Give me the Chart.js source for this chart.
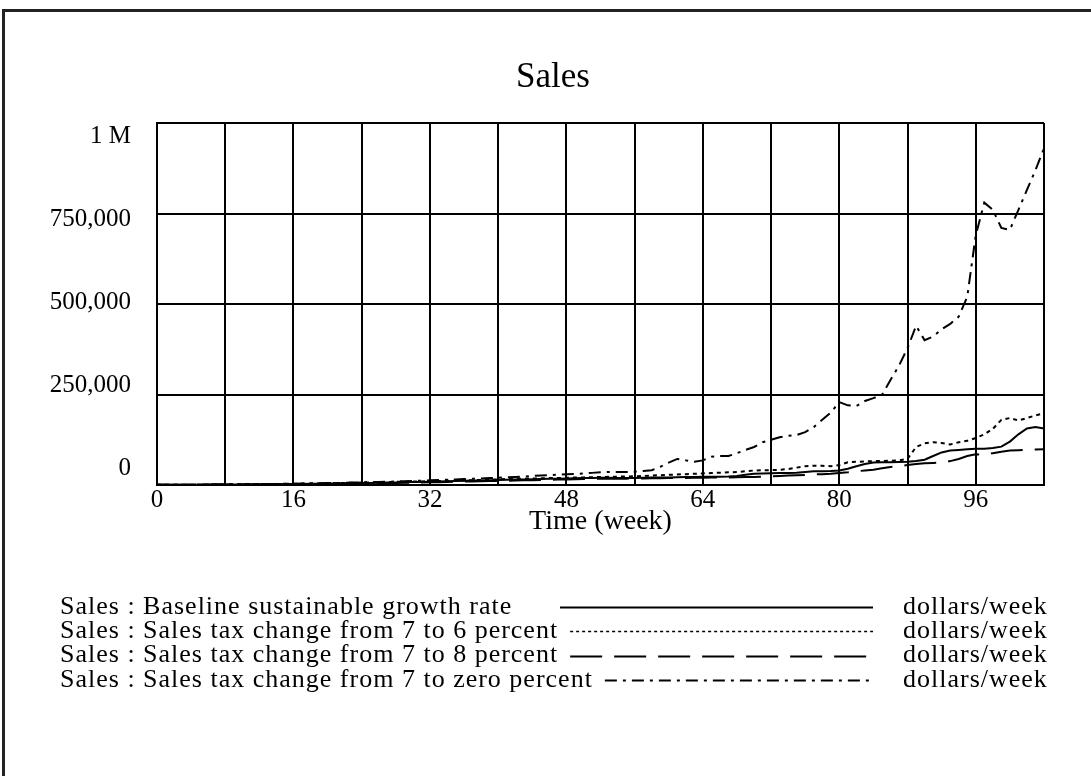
<!DOCTYPE html>
<html><head><meta charset="utf-8">
<script src="https://cdn.jsdelivr.net/npm/chart.js@4.4.1/dist/chart.umd.min.js"></script>
<style>
html,body{margin:0;padding:0;background:#fff;}
#wrap{position:relative;width:1091px;height:776px;overflow:hidden;background:#fff;}
#frame{position:absolute;left:2px;top:9px;width:1200px;height:900px;border-top:3px solid #222;border-left:3px solid #222;}
canvas{position:absolute;left:0;top:0;}
</style></head><body>
<div id="wrap"><div id="frame"></div><canvas id="c" width="1091" height="776"></canvas></div>
<script>
const chartTitle = "Sales";
const xAxisTitle = "Time (week)";
const unitLabel = "dollars/week";
const yTickLabels = ["0", "250,000", "500,000", "750,000", "1 M"];
const weeks = [0,1,2,3,4,5,6,7,8,9,10,11,12,13,14,15,16,17,18,19,20,21,22,23,24,25,26,27,28,29,30,31,32,33,34,35,36,37,38,39,40,41,42,43,44,45,46,47,48,49,50,51,52,53,54,55,56,57,58,59,60,61,62,63,64,65,66,67,68,69,70,71,72,73,74,75,76,77,78,79,80,81,82,83,84,85,86,87,88,89,90,91,92,93,94,95,96,97,98,99,100,101,102,103,104];
const seriesNames = [
  "Sales : Baseline sustainable growth rate",
  "Sales : Sales tax change from 7 to 6 percent",
  "Sales : Sales tax change from 7 to 8 percent",
  "Sales : Sales tax change from 7 to zero percent"
];
const baseline = [500,600,700,800,900,1000,1100,1200,1300,1500,1600,
  1800,2000,2200,2400,2600,2800,3000,3300,3600,3900,
  4200,4500,4900,5300,5700,6100,6600,7100,7600,8100,
  8600,9100,9700,10300,10900,11500,12100,12700,13300,13900,
  14500,15000,15500,16000,16500,17000,17500,18000,18500,19000,
  19500,20000,20000,19500,19000,19500,20000,20500,21000,21000,
  21500,22000,22000,22500,23000,23000,23500,25000,28000,31000,
  32000,32500,33000,33000,34000,36000,38000,38000,38500,40000,
  45000,52000,58000,62000,63000,63000,63500,64000,66000,70000,
  80000,90000,95000,97000,99000,100000,100000,102000,106000,120000,
  140000,156000,160000,156000];
const sixPercent = [500,600,700,850,1000,1150,1300,1450,1600,1800,2000,
  2200,2400,2600,2900,3200,3500,3800,4100,4500,4900,
  5300,5700,6200,6700,7200,7700,8200,8700,9200,9600,
  10000,10500,11000,11500,12000,12600,13200,13800,14500,15500,
  16500,17000,17500,18000,18500,19000,19500,20000,20500,21000,
  21500,22000,22500,23000,23500,24000,25000,26000,27000,28000,
  29000,30000,31000,32000,33000,34000,35000,36000,38000,40000,
  41000,41000,42000,44000,48000,52000,53000,53000,52000,55000,
  63000,64000,65000,66000,66000,67000,68000,72000,105000,115000,
  118000,116000,112000,118000,122000,130000,140000,155000,180000,185000,
  178000,185000,192000,198000];
const eightPercent = [500,550,600,700,800,850,950,1050,1150,1250,1350,
  1500,1650,1800,1950,2100,2300,2500,2700,2900,3100,
  3400,3700,4000,4300,4600,5000,5400,5800,6200,6600,
  7000,7400,7900,8400,8900,9400,9900,10400,10900,11400,
  11900,12400,12900,13400,13900,14400,14900,15400,15900,16400,
  16900,17000,17000,17000,17500,18000,18000,18500,18500,19000,
  19000,19500,20000,20000,20500,21000,21000,21500,22000,22000,
  23000,24000,25000,26000,27000,28000,29000,30000,31000,33000,
  35000,38000,40000,42000,46000,50000,52000,55000,58000,60000,
  61000,62000,66000,72000,80000,85000,83000,88000,92000,95000,
  96000,97000,98000,99000];
const zeroPercent = [500,600,700,850,1000,1150,1300,1500,1700,1900,2100,
  2300,2500,2800,3100,3400,3700,4000,4400,4800,5200,
  5600,6100,6600,7100,7700,8300,9000,9700,10400,11200,
  12000,12800,13600,14500,15400,16300,17200,18200,19200,20200,
  21200,22300,23400,25000,26500,27500,28500,29500,30500,32000,
  33500,35000,36000,36000,36000,37000,39000,41000,50000,62000,
  72000,68000,64000,68000,78000,80000,80000,88000,97000,105000,
  118000,125000,132000,136000,138000,146000,160000,180000,200000,229000,
  220000,218000,232000,240000,249000,290000,330000,378000,440000,400000,
  410000,430000,445000,465000,520000,690000,780000,760000,710000,705000,
  760000,815000,870000,930000];

const seriesValues = [baseline, sixPercent, eightPercent, zeroPercent];
const dashes = [[], [4,4], [32,12], [12,6,3,6]];
const legendDashes = [[], [3,3], [32,12], [12,6,3,6]];
const FONT = '"Liberation Serif", "Times New Roman", serif';

const datasets = seriesValues.map((vals, k) => ({
  label: seriesNames[k],
  data: weeks.map((w, i) => ({x: w, y: vals[i]})),
  borderColor: '#000',
  borderWidth: 2,
  borderDash: dashes[k],
  pointRadius: 0,
  fill: false,
  tension: 0
}));

const textPlugin = {
  id: 'texts',
  afterDraw(chart) {
    const ctx = chart.ctx, a = chart.chartArea, xs = chart.scales.x, ys = chart.scales.y;
    ctx.save();
    ctx.fillStyle = '#000';
    // title
    ctx.font = '35px ' + FONT;
    ctx.textAlign = 'center'; ctx.textBaseline = 'middle';
    ctx.fillText(chartTitle, 553, 78);
    // y labels (Vensim style: inset evenly)
    ctx.font = '25px ' + FONT;
    ctx.textAlign = 'right';
    ys.ticks.forEach((t, i) => {
      const p = ys.getPixelForValue(t.value);
      const f = (p - a.top) / (a.bottom - a.top);
      const y = a.top + 13 + f * (a.bottom - a.top - 30);
      ctx.fillText(yTickLabels[i], a.left - 26, y);
    });
    // x labels
    ctx.textAlign = 'center';
    xs.ticks.forEach(t => {
      if (t.value % 16 === 0 && t.value < 104) {
        ctx.fillText(String(t.value), xs.getPixelForValue(t.value), a.bottom + 15);
      }
    });
    ctx.font = '28px ' + FONT;
    ctx.fillText(xAxisTitle, (a.left + a.right) / 2, a.bottom + 37);
    // legend
    ctx.font = '26px ' + FONT;
    ctx.textAlign = 'left';
    try { ctx.letterSpacing = '1px'; } catch (e) {}
    chart.data.datasets.forEach((ds, k) => {
      const y = 607 + k * 24.3;
      ctx.fillText(ds.label, 60, y);
      const w = ctx.measureText(ds.label).width;
      const x0 = Math.max(560, 60 + w + 12);
      ctx.save();
      ctx.strokeStyle = '#000';
      ctx.lineWidth = k === 1 ? 1.5 : 2;
      ctx.setLineDash(legendDashes[k]);
      ctx.beginPath(); ctx.moveTo(x0, Math.round(y) + 0.5); ctx.lineTo(873, Math.round(y) + 0.5); ctx.stroke();
      ctx.restore();
      ctx.fillText(unitLabel, 903, y);
    });
    ctx.restore();
  }
};

new Chart(document.getElementById('c'), {
  type: 'line',
  data: { datasets },
  options: {
    responsive: false,
    animation: false,
    devicePixelRatio: 1,
    layout: { padding: { left: 157, top: 123, right: 47, bottom: 291 } },
    plugins: { legend: { display: false }, title: { display: false }, tooltip: { enabled: false } },
    scales: {
      x: {
        type: 'linear', min: 0, max: 104,
        ticks: { display: false, stepSize: 8 },
        grid: { color: '#000', lineWidth: 2, drawTicks: false },
        border: { color: '#000', width: 2 }
      },
      y: {
        type: 'linear', min: 0, max: 1000000,
        ticks: { display: false, stepSize: 250000 },
        grid: { color: '#000', lineWidth: 2, drawTicks: false },
        border: { color: '#000', width: 2 }
      }
    }
  },
  plugins: [textPlugin]
});
</script>
</body></html>
